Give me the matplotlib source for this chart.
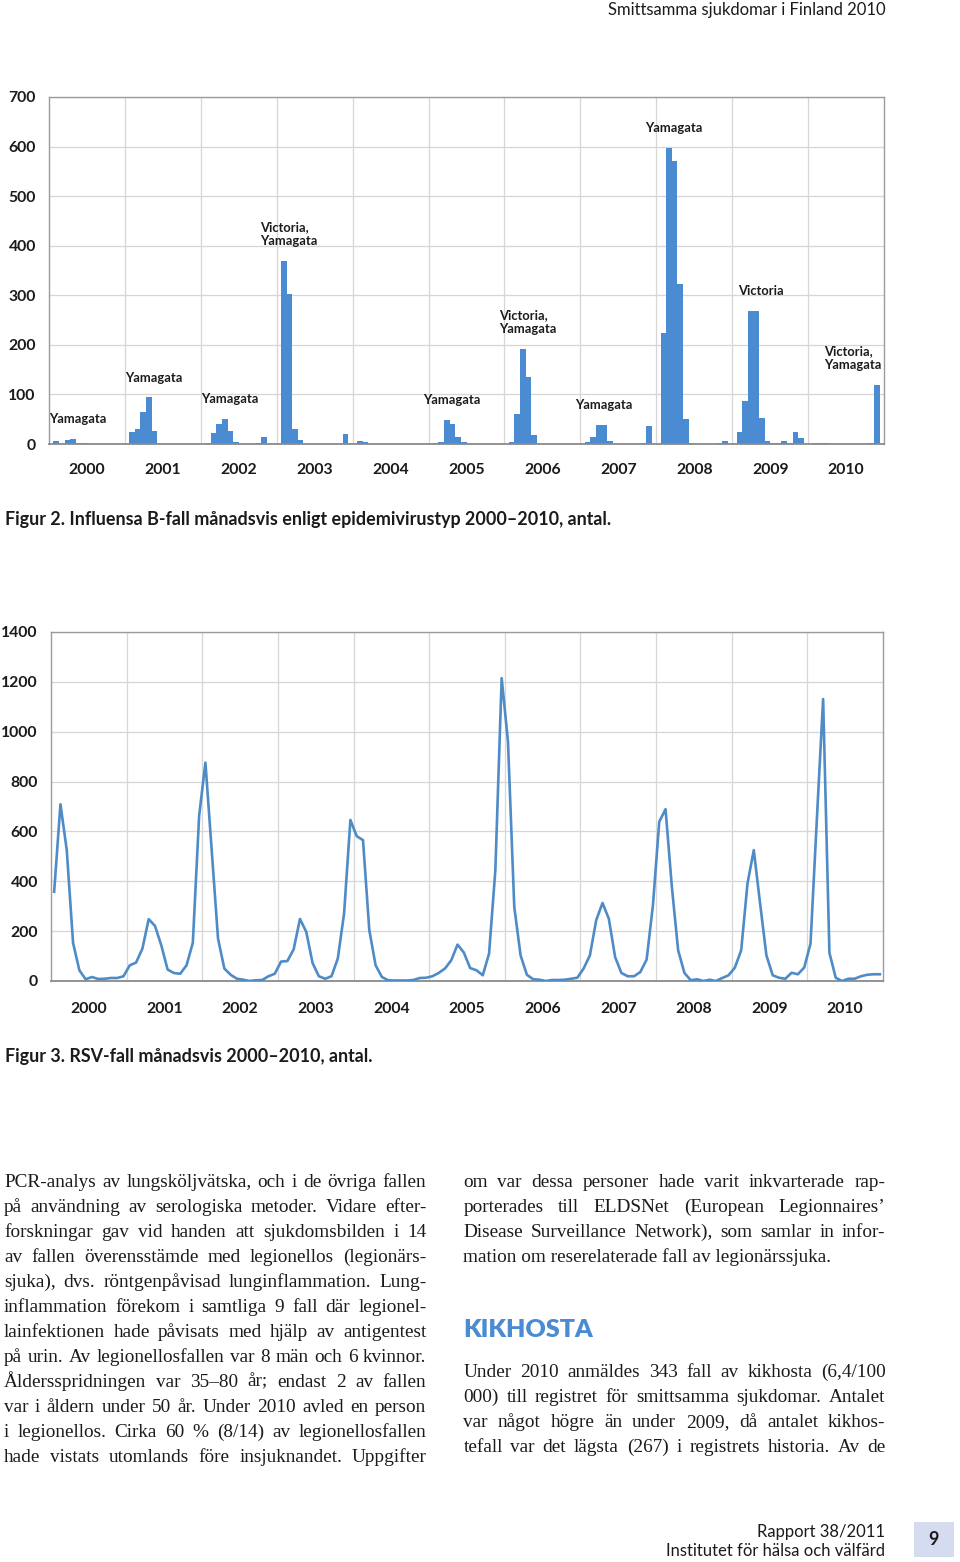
import matplotlib
matplotlib.use("Agg")
import matplotlib.pyplot as plt
from matplotlib.font_manager import FontProperties
from matplotlib.patches import Rectangle
import numpy as np

# ---- data -------------------------------------------------------------
years = ["2000", "2001", "2002", "2003", "2004", "2005",
         "2006", "2007", "2008", "2009", "2010"]

# Influensa B cases per month (Jan..Dec), one row per year
influensa_b = [
    [7, 0, 9, 10, 3, 3, 0, 0, 1, 1, 1, 1],
    [25, 31, 64, 94, 26, 1, 0, 0, 1, 1, 1, 1],
    [2, 22, 40, 50, 26, 4, 1, 0, 0, 2, 15, 0],
    [370, 303, 31, 9, 1, 0, 0, 0, 1, 1, 1, 21],
    [7, 4, 1, 1, 1, 0, 0, 0, 1, 0, 1, 1],
    [3, 5, 49, 40, 15, 5, 1, 0, 0, 1, 1, 1],
    [4, 61, 192, 135, 18, 1, 0, 0, 1, 1, 1, 1],
    [5, 14, 38, 38, 7, 1, 0, 0, 1, 1, 2, 37],
    [223, 597, 571, 322, 51, 2, 0, 0, 0, 0, 3, 7],
    [25, 87, 268, 269, 52, 7, 3, 3, 6, 3, 25, 13],
    [2, 2, 2, 1, 1, 0, 1, 1, 1, 1, 3, 120],
]

# epidemic virus type per season
virus_types = [
    ("2000", "Yamagata"),
    ("2001", "Yamagata"),
    ("2002", "Yamagata"),
    ("2003", "Victoria,\nYamagata"),
    ("2005", "Yamagata"),
    ("2006", "Victoria,\nYamagata"),
    ("2007", "Yamagata"),
    ("2008", "Yamagata"),
    ("2009", "Victoria"),
    ("2010", "Victoria,\nYamagata"),
]

# RSV cases per month (Jan..Dec), one row per year
rsv = [
    [358, 709, 525, 153, 43, 7, 16, 8, 9, 12, 12, 19],
    [63, 74, 130, 248, 221, 143, 46, 32, 29, 63, 153, 662],
    [876, 520, 170, 50, 25, 9, 5, 0, 3, 4, 19, 29],
    [78, 80, 127, 249, 197, 72, 19, 9, 19, 90, 271, 646],
    [581, 565, 204, 63, 16, 3, 2, 2, 2, 4, 12, 13],
    [19, 32, 50, 83, 146, 114, 52, 43, 23, 110, 445, 1215],
    [961, 297, 103, 25, 7, 5, 0, 4, 4, 5, 9, 13],
    [50, 103, 244, 313, 250, 96, 32, 19, 19, 36, 86, 304],
    [639, 689, 378, 123, 32, 3, 7, 0, 5, 0, 12, 23],
    [54, 123, 391, 525, 311, 103, 23, 13, 9, 33, 27, 54],
    [150, 646, 1131, 113, 13, 0, 9, 9, 19, 25, 27, 27],
]

header = "Smittsamma sjukdomar i Finland 2010"
caption2 = "Figur 2. Influensa B-fall månadsvis enligt epidemivirustyp 2000–2010, antal."
caption3 = "Figur 3. RSV-fall månadsvis 2000–2010, antal."

left_column = [
    "PCR-analys av lungsköljvätska, och i de övriga fallen",
    "på användning av serologiska metoder. Vidare efter-",
    "forskningar gav vid handen att sjukdomsbilden i 14",
    "av fallen överensstämde med legionellos (legionärs-",
    "sjuka), dvs. röntgenpåvisad lunginflammation. Lung-",
    "inflammation förekom i samtliga 9 fall där legionel-",
    "lainfektionen hade påvisats med hjälp av antigentest",
    "på urin. Av legionellosfallen var 8 män och 6 kvinnor.",
    "Åldersspridningen var 35–80 år; endast 2 av fallen",
    "var i åldern under 50 år. Under 2010 avled en person",
    "i legionellos. Cirka 60 % (8/14) av legionellosfallen",
    "hade vistats utomlands före insjuknandet. Uppgifter",
]
right_column = [
    "om var dessa personer hade varit inkvarterade rap-",
    "porterades till ELDSNet (European Legionnaires’",
    "Disease Surveillance Network), som samlar in infor-",
    "mation om reserelaterade fall av legionärssjuka.",
]
heading = "KIKHOSTA"
right_column2 = [
    "Under 2010 anmäldes 343 fall av kikhosta (6,4/100",
    "000) till registret för smittsamma sjukdomar. Antalet",
    "var något högre än under 2009, då antalet kikhos-",
    "tefall var det lägsta (267) i registrets historia. Av de",
]
footer = ["Rapport 38/2011", "Institutet för hälsa och välfärd"]
page_no = "9"

# ---- style ------------------------------------------------------------
W, H = 960, 1562
BAR_COLOR = "#4a8bd1"
LINE_COLOR = "#4f8bc6"
GRID = "#d6d6d6"
SPINE = "#9b9b9b"
INK = "#1c1a1a"
SANS = ["Lato", "DejaVu Sans"]
SERIF = ["Liberation Serif", "DejaVu Serif"]

plt.rcParams["font.family"] = SANS

fig = plt.figure(figsize=(W / 100, H / 100), dpi=100)


def fx(px):
    return px / W


def fy(py):
    return 1 - py / H


def style_axes(ax, ymax, ystep, label_pad_y, label_pad_x):
    n = len(years)
    ax.set_xlim(0, n)
    ax.set_ylim(0, ymax)
    ax.set_yticks(np.arange(0, ymax + 1, ystep))
    ax.set_xticks(np.arange(n) + 0.5)
    ax.set_xticklabels(years)
    ax.set_xticks(np.arange(1, n), minor=True)
    ax.grid(axis="y", which="major", color=GRID, lw=0.9)
    ax.grid(axis="x", which="minor", color=GRID, lw=0.9)
    ax.set_axisbelow(True)
    ax.tick_params(which="both", length=0)
    ax.tick_params(axis="y", pad=label_pad_y, labelsize=11.3)
    ax.tick_params(axis="x", pad=label_pad_x, labelsize=11.3)
    for lab in ax.get_xticklabels() + ax.get_yticklabels():
        lab.set_fontweight("bold")
        lab.set_color(INK)
    for s in ax.spines.values():
        s.set_color(SPINE)
        s.set_linewidth(1.0)
    ax.spines["bottom"].set_color("#8a8a8a")
    ax.spines["bottom"].set_linewidth(1.3)


# ---- Figur 2: bar chart ------------------------------------------------
ax1 = fig.add_axes([fx(49), fy(444), fx(835), 347 / H])
pad = 0.057
bw = (1 - 2 * pad) / 12
flu = np.array(influensa_b, dtype=float)
for yi in range(len(years)):
    xs = yi + pad + (np.arange(12) + 0.5) * bw
    ax1.bar(xs, flu[yi], width=bw, color=BAR_COLOR, linewidth=0, zorder=2)
style_axes(ax1, 700, 100, 9.5, 14)

for year, text in virus_types:
    yi = years.index(year)
    k = int(np.argmax(flu[yi]))
    peak = flu[yi, k]
    xb = yi + pad + (k + 0.5) * bw
    if yi == len(years) - 1 and k > 8:
        ax1.annotate(text, (len(years), peak), xytext=(-1.5, 10),
                     textcoords="offset points", ha="right", va="bottom",
                     fontsize=9.3, fontweight="bold", linespacing=1.2,
                     multialignment="left", color=INK)
    else:
        ax1.annotate(text, (xb, peak), xytext=(3.5, 10),
                     textcoords="offset points", ha="center", va="bottom",
                     fontsize=9.3, fontweight="bold", linespacing=1.2,
                     multialignment="left", color=INK)

# ---- Figur 3: line chart -----------------------------------------------
ax2 = fig.add_axes([fx(51), fy(981), fx(832), 349 / H])
rsv_arr = np.array(rsv, dtype=float)
xm = np.concatenate([yi + (np.arange(12) + 0.5) / 12 for yi in range(len(years))])
ax2.plot(xm, rsv_arr.ravel(), color=LINE_COLOR, lw=1.9,
         solid_joinstyle="round", zorder=3)
style_axes(ax2, 1400, 200, 9.5, 15)

# ---- page texts --------------------------------------------------------
fig.text(fx(886), fy(15), header, ha="right", va="baseline",
         fontsize=12, color=INK)
fig.text(fx(5), fy(525), caption2, ha="left", va="baseline",
         fontsize=12.9, fontweight="bold", color=INK)
fig.text(fx(5), fy(1062), caption3, ha="left", va="baseline",
         fontsize=12.9, fontweight="bold", color=INK)

renderer = fig.canvas.get_renderer()

# pick the largest serif size where every line fits its column
probe = FontProperties(family=SERIF, size=10)
natural = max(renderer.get_text_width_height_descent(s, probe, ismath=False)[0]
              for s in left_column + right_column + right_column2)
serif = FontProperties(family=SERIF, size=10 * 421.0 / natural * 0.985)


def justified(lines, x0, x1, y0, step, last_free=False):
    for i, line in enumerate(lines):
        y = y0 + i * step
        words = line.split(" ")
        if last_free and i == len(lines) - 1:
            fig.text(fx(x0), fy(y), line, ha="left", va="baseline",
                     fontproperties=serif, color=INK)
            continue
        widths = [renderer.get_text_width_height_descent(w, serif, ismath=False)[0]
                  for w in words]
        gap = (x1 - x0 - sum(widths)) / max(len(words) - 1, 1)
        x = x0
        for w, wd in zip(words, widths):
            fig.text(fx(x), fy(y), w, ha="left", va="baseline",
                     fontproperties=serif, color=INK)
            x += wd + gap


justified(left_column, 4, 426.5, 1187.3, 24.95)
justified(right_column, 463.3, 885.5, 1187.3, 24.95, last_free=True)
fig.text(fx(463.3), fy(1337), heading, ha="left", va="baseline",
         fontsize=18, fontweight="heavy", color=BAR_COLOR)
justified(right_column2, 463.3, 885.5, 1376.7, 24.95)

fig.text(fx(885), fy(1536.5), footer[0], ha="right", va="baseline",
         fontsize=12, color=INK)
fig.text(fx(885), fy(1555.5), footer[1], ha="right", va="baseline",
         fontsize=12, color=INK)
fig.patches.append(Rectangle((fx(914), fy(1557)), fx(39.5), 35 / H,
                             transform=fig.transFigure, color="#d5dcef", lw=0))
fig.text(fx(933.5), fy(1539.5), page_no, ha="center", va="center",
         fontsize=13, fontweight="bold", color=INK)

fig.savefig("out.png", dpi=100)
